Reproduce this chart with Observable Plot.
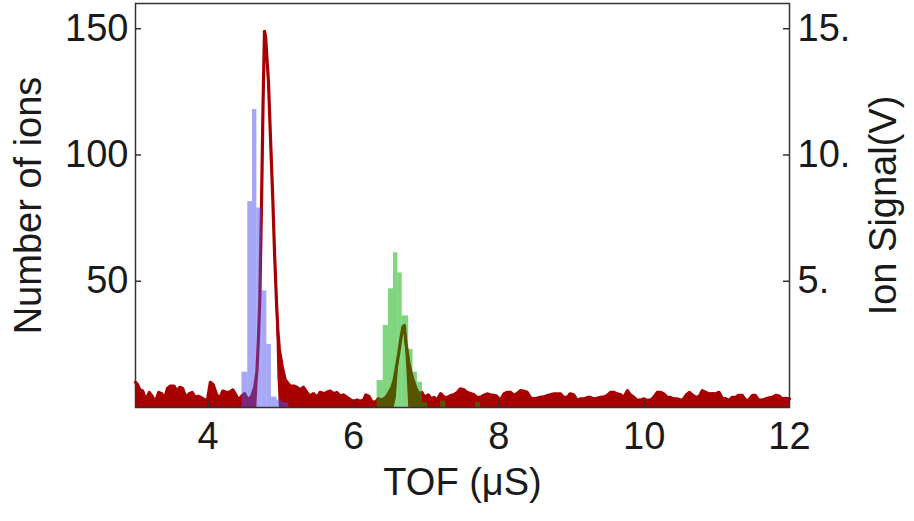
<!DOCTYPE html>
<html><head><meta charset="utf-8">
<script src="https://cdn.jsdelivr.net/npm/d3@7"></script>
<script src="https://cdn.jsdelivr.net/npm/@observablehq/plot@0.6"></script>
<style>
html,body{margin:0;padding:0;background:#fff;}
#chart svg{display:block;}
</style></head><body><div id="chart"></div>
<script>
// ---- ion signal trace (time of flight in µs, signal in V) ----
const sigT = [3.00,3.03,3.06,3.10,3.14,3.19,3.23,3.27,3.32,3.36,3.40,3.44,3.48,3.53,3.57,3.61,3.65,3.69,3.74,3.78,3.82,3.86,3.90,3.95,3.99,
4.03,4.07,4.11,4.16,4.20,4.25,4.29,4.34,4.38,4.42,4.46,4.50,4.55,4.60,4.64,
4.67,4.69,4.71,4.735,4.755,4.775,4.79,4.81,4.83,4.86,4.89,4.915,4.94,4.96,4.98,
5.02,5.06,5.10,5.13,5.18,5.22,5.27,5.31,5.36,5.40,5.45,5.50,5.54,5.59,5.63,5.68,5.73,5.77,5.82,5.86,5.91,5.96,
6.00,6.05,6.09,6.14,6.17,6.21,6.25,6.30,6.34,6.38,6.42,6.46,6.50,6.53,6.56,
6.59,6.62,6.65,6.68,6.70,6.72,6.74,6.76,6.79,6.82,6.86,6.90,6.94,6.98,
7.03,7.07,7.11,7.15,7.20,7.25,7.29,7.34,7.38,7.43,7.47,7.52,7.56,7.61,7.66,7.70,7.75,7.79,7.84,7.88,7.93,7.97,
8.02,8.07,8.11,8.16,8.21,8.25,8.30,8.34,8.39,8.43,8.48,8.52,8.57,8.62,8.67,8.71,8.76,8.80,8.85,8.89,8.94,8.98,
9.03,9.08,9.12,9.17,9.22,9.26,9.31,9.35,9.40,9.45,9.49,9.54,9.58,9.63,9.68,9.72,9.77,9.81,9.86,9.90,9.95,
10.00,10.04,10.09,10.13,10.18,10.23,10.27,10.32,10.36,10.41,10.45,10.50,10.53,10.58,10.62,10.67,10.71,10.76,10.80,10.85,10.89,10.94,10.98,
11.03,11.08,11.12,11.17,11.21,11.26,11.30,11.35,11.40,11.44,11.49,11.53,11.58,11.63,11.67,11.72,11.76,11.81,11.86,11.90,11.95,12.00];
const sigV = [1.0,0.9,0.7,0.65,0.3,0.6,0.45,0.2,0.6,0.55,0.35,0.75,0.85,0.85,0.65,0.8,0.75,0.4,0.55,0.6,0.4,0.45,0.4,0.3,0.3,
1.0,0.9,0.55,0.35,0.65,0.6,0.6,0.7,0.5,0.3,0.45,0.55,0.3,0.45,0.8,
1.4,2.6,4.2,8.2,12.0,14.9,14.7,13.8,12.9,10.5,8.2,6.0,4.2,3.0,2.3,
1.6,1.1,0.95,0.85,0.85,0.8,0.7,0.8,0.6,0.45,0.55,0.4,0.6,0.55,0.6,0.65,0.55,0.6,0.45,0.5,0.4,0.3,
0.25,0.3,0.25,0.3,0.5,0.45,0.25,0.2,0.35,0.3,0.35,0.45,0.65,0.8,1.1,
1.6,2.1,2.7,3.2,3.25,2.6,2.2,1.8,1.4,1.1,0.75,0.55,0.6,0.4,
0.5,0.35,0.4,0.3,0.55,0.4,0.4,0.48,0.5,0.6,0.74,0.7,0.6,0.55,0.5,0.4,0.4,0.48,0.54,0.5,0.48,0.45,
0.28,0.54,0.6,0.6,0.48,0.55,0.67,0.65,0.6,0.4,0.34,0.36,0.4,0.42,0.48,0.5,0.54,0.54,0.54,0.4,0.4,0.54,
0.5,0.28,0.34,0.34,0.4,0.4,0.34,0.36,0.4,0.42,0.48,0.6,0.6,0.54,0.5,0.4,0.67,0.5,0.4,0.28,0.3,
0.34,0.28,0.3,0.4,0.6,0.6,0.54,0.4,0.4,0.34,0.34,0.3,0.28,0.5,0.6,0.48,0.4,0.45,0.67,0.6,0.54,0.55,0.54,
0.6,0.34,0.35,0.28,0.4,0.4,0.48,0.48,0.28,0.3,0.48,0.48,0.28,0.3,0.34,0.38,0.4,0.48,0.45,0.34,0.36,0.34];
// lower edge of the dense noisy trace inside the two peaks (elsewhere the noise reaches 0 V)
const coreT = [4.69,4.71,4.735,4.755,4.775,4.79,4.81,4.83,4.86,4.89,4.915,4.94,4.96, 6.59,6.62,6.65,6.68,6.70,6.72,6.74];
const coreV = [1.2,3.4,7.6,11.6,14.6,14.4,13.5,12.6,10.2,7.9,5.7,3.6,1.2, 0.4,1.6,2.3,2.9,2.9,2.2,1.2];

// ---- ion count histograms (bin edges in µs, counts) ----
const blueEdges = [4.465,4.545,4.61,4.67,4.74,4.808,4.87,4.946,5.02,5.11];
const blueCounts = [14,81.5,118,79,46.2,25,4.1,3,2];
const greenEdges = [6.325,6.41,6.48,6.55,6.61,6.67,6.76,6.82,6.88,6.95,7.02];
const greenCounts = [10.7,32.5,47,61.3,53.3,36.3,23,14,10,2];
const greenSmallX1 = [7.20,7.68];
const greenSmallX2 = [7.27,7.75];
const greenSmallCounts = [2.5,2];

// ---- axes ----
const xTicks = [4,6,8,10,12];
const yTicks = [50,100,150];
const rightTicksV = [5,10,15];
const rightTickLabels = ["5.","10.","15."];
const countsPerVolt = 10;   // ratio between the left and right axes
const xLabel = "TOF (μS)";
const yLabel = "Number of ions";
const y2Label = "Ion Signal(V)";

const loMap = new Map(coreT.map((t,i)=>[t, coreV[i]]));
const signal = sigT.map((t,i)=>({t, hi: sigV[i]*countsPerVolt, lo: (loMap.get(t) ?? 0)*countsPerVolt}));
const blue = blueCounts.map((c,i)=>({x1: blueEdges[i], x2: blueEdges[i+1], y: c}));
const green = greenCounts.map((c,i)=>({x1: greenEdges[i], x2: greenEdges[i+1], y: c}))
  .concat(greenSmallCounts.map((c,i)=>({x1: greenSmallX1[i], x2: greenSmallX2[i], y: c})));
const rightLabelMap = new Map(rightTicksV.map((v,i)=>[v*countsPerVolt, rightTickLabels[i]]));

const W = 914, H = 521, mL = 135, mR = 125, mT = 3, mB = 114;
const innerW = W - mL - mR, innerH = H - mT - mB, tick = 6;
const red = "#a80000", ink = "#1a1a1a", frameC = "#333";

const chart = Plot.plot({
  width: W, height: H,
  marginLeft: mL, marginRight: mR, marginTop: mT, marginBottom: mB,
  style: {fontFamily: "'Liberation Sans', Arial, sans-serif", fontSize: "38px", color: ink, background: "#fff"},
  x: {domain: [3, 12]},
  y: {domain: [0, 160]},
  marks: [
    Plot.areaY(signal, {x: "t", y1: "lo", y2: "hi", fill: red}),
    Plot.line(signal, {x: "t", y: "hi", stroke: red, strokeWidth: 3.2, strokeLinejoin: "round"}),
    Plot.rectY(blue, {x1: "x1", x2: "x2", y: "y", fill: "#5050f0", fillOpacity: 0.5}),
    Plot.rectY(green, {x1: "x1", x2: "x2", y: "y", fill: "#00ad00", fillOpacity: 0.5}),
    Plot.ruleX(xTicks.filter(d => d < 12), {x: d => d, insetTop: innerH - tick, stroke: frameC, strokeWidth: 1.5}),
    Plot.ruleY(yTicks, {y: d => d, insetRight: innerW - tick, stroke: frameC, strokeWidth: 1.5}),
    Plot.ruleY(yTicks, {y: d => d, insetLeft: innerW - tick, stroke: frameC, strokeWidth: 1.5}),
    Plot.frame({stroke: frameC, strokeWidth: 1.5}),
    Plot.axisX({ticks: xTicks, tickSize: 0, tickPadding: 15, label: null, fontSize: 38}),
    Plot.axisY({ticks: yTicks, tickSize: 0, tickPadding: 7, label: null, fontSize: 38}),
    Plot.axisY({anchor: "right", ticks: rightTicksV.map(v => v*countsPerVolt), tickFormat: d => rightLabelMap.get(d), tickSize: 0, tickPadding: 8, label: null, fontSize: 38}),
    Plot.text([xLabel], {text: d => d, frameAnchor: "bottom", dy: 87, textAnchor: "middle", fontSize: 38, fill: ink}),
    Plot.text([yLabel], {text: d => d, frameAnchor: "left", dx: -107, textAnchor: "middle", rotate: -90, fontSize: 38, fill: ink}),
    Plot.text([y2Label], {text: d => d, frameAnchor: "right", dx: 94, textAnchor: "middle", rotate: -90, fontSize: 38, fill: ink})
  ]
});
document.getElementById("chart").appendChild(chart);
</script></body></html>
